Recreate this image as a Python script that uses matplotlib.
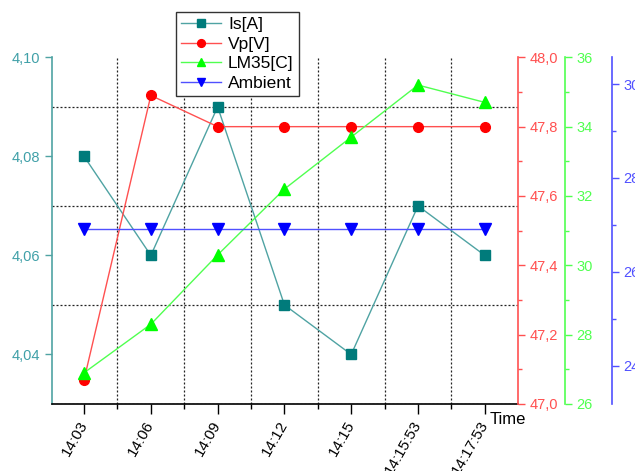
import matplotlib
matplotlib.use('Agg')
import matplotlib.pyplot as plt
from matplotlib.ticker import MultipleLocator, FixedLocator, FuncFormatter

plt.rcParams['font.family'] = ['Liberation Sans', 'DejaVu Sans']

times = ['14:03', '14:06', '14:09', '14:12', '14:15', '14:15:53', '14:17:53']
current = [4.08, 4.06, 4.09, 4.05, 4.04, 4.07, 4.06]
voltage = [47.07, 47.89, 47.8, 47.8, 47.8, 47.8, 47.8]
lm35 = [26.9, 28.3, 30.3, 32.2, 33.7, 35.2, 34.7]
ambient = [26.9, 26.9, 26.9, 26.9, 26.9, 26.9, 26.9]

x = list(range(len(times)))

teal, teal_line, teal_txt = '#007b7b', '#4fa3a3', '#40a0a8'
red, red_line = '#ff0000', '#ff5050'
green, green_line = '#00ff00', '#50ff50'
blue, blue_line = '#0000ff', '#5050ff'

fig = plt.figure(figsize=(6.35, 4.71), dpi=100)
ax = fig.add_axes([0.0819, 0.1423, 0.7331, 0.7360])
ax2 = ax.twinx()
ax3 = ax.twinx()
ax4 = ax.twinx()

def comma(fmt):
    return FuncFormatter(lambda v, p: fmt.format(v).replace('.', ','))

l1, = ax.plot(x, current, color=teal_line, lw=1, marker='s', ms=6.5,
              mfc=teal, mec=teal, label='Is[A]')
l2, = ax2.plot(x, voltage, color=red_line, lw=1, marker='o', ms=7,
               mfc=red, mec=red, label='Vp[V]')
l3, = ax3.plot(x, lm35, color=green_line, lw=1, marker='^', ms=8,
               mfc=green, mec=green, label='LM35[C]')
l4, = ax4.plot(x, ambient, color=blue_line, lw=1, marker='v', ms=8,
               mfc=blue, mec=blue, label='Ambient')

ax.set_xlim(-0.48, 6.49)
ax.set_ylim(4.03, 4.10)
ax2.set_ylim(47.0, 48.0)
ax3.set_ylim(26, 36)
ax4.set_ylim(23.18, 30.57)

# x axis: categories with minor ticks between them
ax.set_xticks(x)
ax.set_xticklabels(times, rotation=60, ha='right', va='center',
                   rotation_mode='anchor', fontsize=11)
ax.xaxis.set_minor_locator(FixedLocator([i + 0.5 for i in range(6)]))
ax.tick_params(axis='x', which='major', length=7, width=1, pad=6, direction='out')
ax.tick_params(axis='x', which='minor', length=3.5, width=1, direction='out')

# left axis
ax.yaxis.set_major_locator(MultipleLocator(0.02))
ax.yaxis.set_minor_locator(MultipleLocator(0.01))
ax.yaxis.set_major_formatter(comma('{:.2f}'))
ax.tick_params(axis='y', which='major', length=5, width=1, colors=teal_line,
               labelcolor=teal_txt, labelsize=10.5)
ax.tick_params(axis='y', which='minor', length=0)
ax.grid(which='minor', color='#222222', linestyle=(0, (1.6, 1.6)), lw=0.9)
ax.grid(which='major', visible=False)

for a in (ax, ax2, ax3, ax4):
    a.spines['top'].set_visible(False)
ax.spines['right'].set_visible(False)
ax.spines['left'].set_color(teal_line)
ax.spines['left'].set_linewidth(1.2)
ax.spines['bottom'].set_linewidth(1.2)
for a in (ax2, ax3, ax4):
    a.spines['left'].set_visible(False)
    a.spines['bottom'].set_visible(False)

ax3.spines['right'].set_position(('axes', 1.101))
ax4.spines['right'].set_position(('axes', 1.2026))

axis_specs = [
    (ax2, red_line, 0.2, 0.1, comma('{:.1f}')),
    (ax3, green_line, 2, 1, comma('{:.0f}')),
    (ax4, blue_line, 2, 1, comma('{:.0f}')),
]
for a, col, major, minor, fmt in axis_specs:
    a.spines['right'].set_color(col)
    a.spines['right'].set_linewidth(1.2)
    a.yaxis.set_major_locator(MultipleLocator(major))
    a.yaxis.set_minor_locator(MultipleLocator(minor))
    a.yaxis.set_major_formatter(fmt)
    a.tick_params(axis='y', which='major', length=5, width=1, colors=col,
                  labelcolor=col, labelsize=10.5)
    a.tick_params(axis='y', which='minor', length=3, width=1, colors=col)

fig.text(490 / 635, 1 - 419 / 471, 'Time', fontsize=12, va='center', ha='left')

fig.legend(handles=[l1, l2, l3, l4], loc='upper left',
           bbox_to_anchor=(0.277, 0.975), fontsize=12.5, frameon=True,
           fancybox=False, edgecolor='#333333', framealpha=1,
           borderpad=0.3, labelspacing=0.25, handlelength=2.3,
           handletextpad=0.4, borderaxespad=0, markerscale=0.8)

fig.savefig('out.png', dpi=100)
